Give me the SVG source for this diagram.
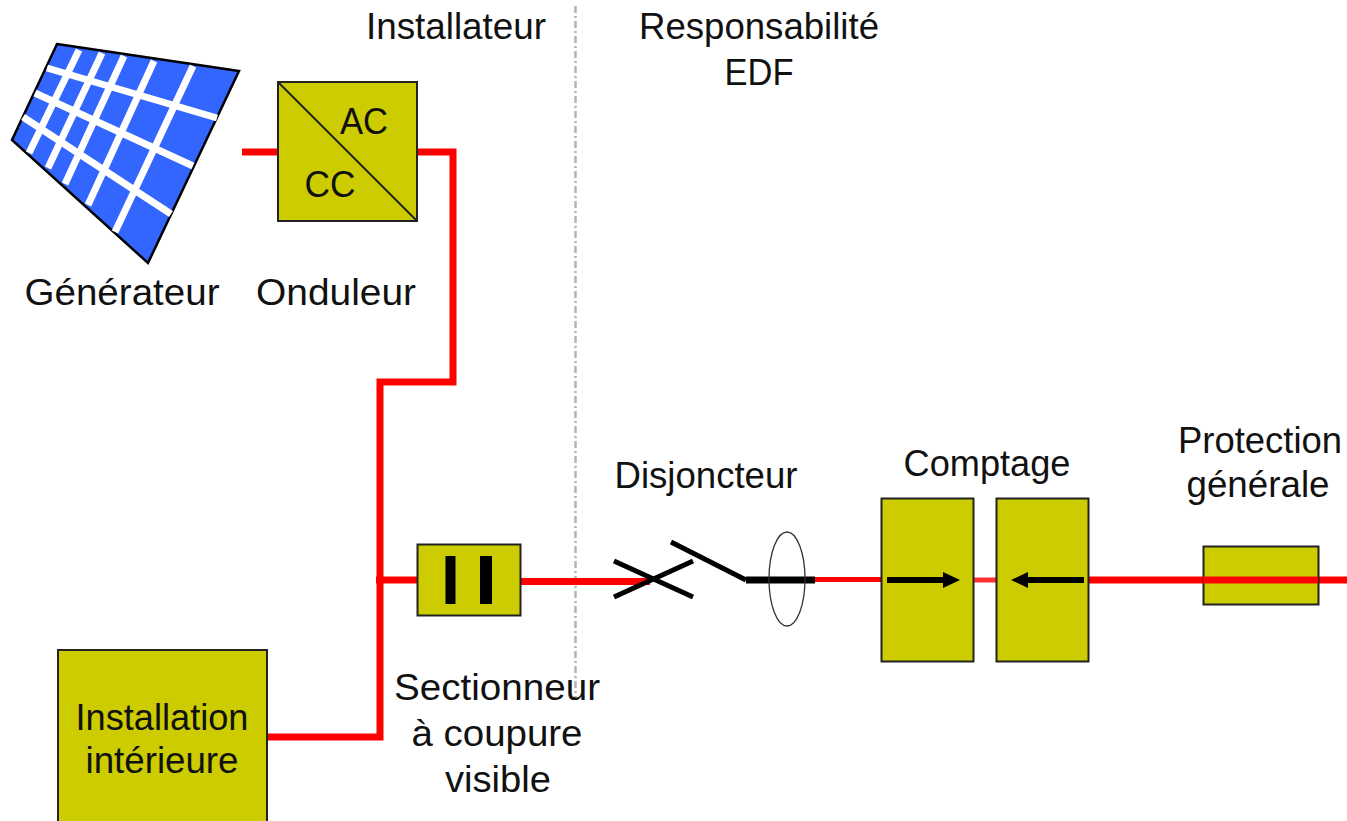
<svg xmlns="http://www.w3.org/2000/svg" width="1347" height="821" viewBox="0 0 1347 821">
<defs><style>
text{font-family:"Liberation Sans",Arial,sans-serif;font-size:36px;fill:#111;text-anchor:middle}
.box{fill:#CCCC00;stroke:#222;stroke-width:2}
.w{stroke:#FF0000;stroke-width:7;fill:none}
.b{stroke:#000;fill:none}
.g{stroke:#fff;stroke-width:7;fill:none}
</style></defs>
<rect width="1347" height="821" fill="#fff"/>
<line x1="575.500" y1="6" x2="575.500" y2="700" stroke="#b5b5b5" stroke-width="2.500" stroke-dasharray="7 3 2 3"/>
<g id="connectors">
<path class="w" d="M242 152H278M417 152H453V382H380V737H267"/>
<path class="w" d="M376 580H418"/>
<path class="w" d="M521 581.500H650"/>
<path d="M815 579.500H882" stroke="#FF0000" stroke-width="5" fill="none"/>
<path d="M974 580H996" stroke="#FF3030" stroke-width="5" fill="none"/>
<path class="w" d="M1086 580H1347"/>
</g>
<g id="generateur">
<polygon points="57,44 239,71 148,263 12,140" fill="#3366FF" stroke="#000" stroke-width="2.500"/>
<path class="g" d="M79,50L29,153M102,53L48,168M124,56L65,184M154,61L88,205M193,66L115,232M47,68L217,118M35,93L193,166M23,117L171,214"/>
<text x="122" y="305" textLength="195" lengthAdjust="spacingAndGlyphs">Générateur</text>
</g>
<g id="onduleur">
<rect class="box" x="278" y="82" width="139" height="139"/>
<line x1="278" y1="82" x2="417" y2="221" stroke="#222" stroke-width="2"/>
<text x="364" y="134" textLength="48" lengthAdjust="spacingAndGlyphs">AC</text>
<text x="330" y="197" textLength="51" lengthAdjust="spacingAndGlyphs">CC</text>
<text x="336" y="305" textLength="160" lengthAdjust="spacingAndGlyphs">Onduleur</text>
</g>
<g id="sectionneur">
<rect class="box" x="417.500" y="544.500" width="103" height="71"/>
<rect x="445.500" y="556" width="10" height="48"/>
<rect x="480" y="556" width="12" height="48"/>
<text x="497" y="700" textLength="206" lengthAdjust="spacingAndGlyphs">Sectionneur</text>
<text x="497" y="746" textLength="171" lengthAdjust="spacingAndGlyphs">à coupure</text>
<text x="498" y="792" textLength="106" lengthAdjust="spacingAndGlyphs">visible</text>
</g>
<g id="disjoncteur">
<path class="b" stroke-width="5" d="M614 561L693 597M614 597L693 561M671 542L746 580"/>
<path class="b" stroke-width="7" d="M746 580H815"/>
<ellipse cx="787" cy="579" rx="18" ry="47" fill="none" stroke="#333" stroke-width="1.300"/>
<text x="706" y="488" textLength="183" lengthAdjust="spacingAndGlyphs">Disjoncteur</text>
</g>
<g id="comptage">
<rect class="box" x="881.500" y="498.500" width="92" height="163"/>
<rect class="box" x="996.500" y="498.500" width="92" height="163"/>
<path d="M887 577H943V572L960 580L943 588V583H887Z" fill="#000"/>
<path d="M1084 577H1028V572L1011 580L1028 588V583H1084Z" fill="#000"/>
<text x="987" y="476" textLength="167" lengthAdjust="spacingAndGlyphs">Comptage</text>
</g>
<g id="protection">
<rect class="box" x="1203.500" y="546.500" width="115" height="58"/>
<path class="w" d="M1203 580H1318"/>
<text x="1260" y="453" textLength="164" lengthAdjust="spacingAndGlyphs">Protection</text>
<text x="1258" y="497" textLength="143" lengthAdjust="spacingAndGlyphs">générale</text>
</g>
<g id="installation">
<rect class="box" x="58" y="650" width="209" height="180"/>
<text x="162" y="730" textLength="173" lengthAdjust="spacingAndGlyphs">Installation</text>
<text x="162" y="773" textLength="153" lengthAdjust="spacingAndGlyphs">intérieure</text>
</g>
<g id="labels">
<text x="456" y="39" textLength="180" lengthAdjust="spacingAndGlyphs">Installateur</text>
<text x="759" y="39" textLength="240" lengthAdjust="spacingAndGlyphs">Responsabilité</text>
<text x="759" y="85" textLength="69" lengthAdjust="spacingAndGlyphs">EDF</text>
</g>
</svg>
